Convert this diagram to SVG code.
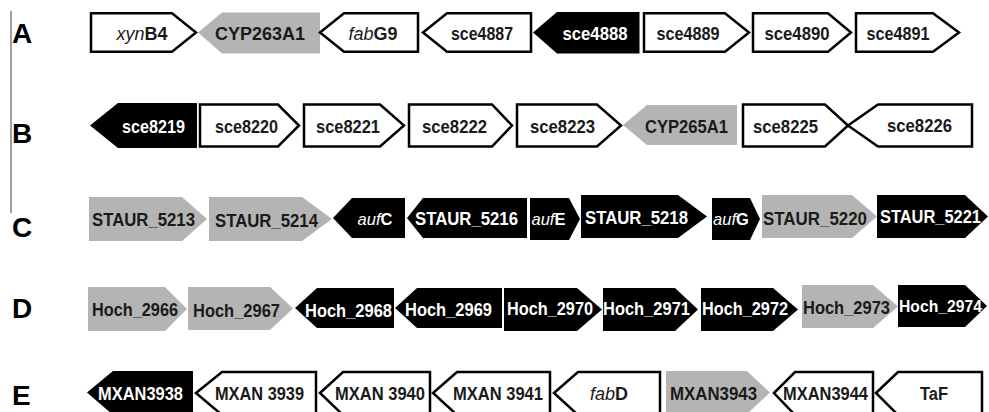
<svg xmlns="http://www.w3.org/2000/svg" width="989" height="412" viewBox="0 0 989 412">
<style>
.w{fill:#fff;stroke:#000;stroke-width:2.5;stroke-linejoin:miter}
.g{fill:#b4b4b4}
.k{fill:#000}
text{font-family:"Liberation Sans",Arial,sans-serif;font-weight:bold;font-size:18px;text-anchor:middle}
.d{fill:#1a1a1a}
.l{fill:#fff}
.lab{font-size:28px;text-anchor:start;fill:#000}
.s{font-size:16.5px}
.i{font-style:italic;font-weight:normal}
</style>
<rect width="989" height="412" fill="#fff"/>
<g id="axis"><line x1="11" y1="11" x2="11" y2="213" stroke="#808080" stroke-width="1.5"/></g>
<g id="row-labels">
<text class="lab" x="12" y="43">A</text>
<text class="lab" x="12" y="143">B</text>
<text class="lab" x="12" y="237">C</text>
<text class="lab" x="12" y="318">D</text>
<text class="lab" x="12" y="405">E</text>
</g>
<g id="connectors"></g>
<!-- Row A -->
<g id="xynB4"><polygon class="w" points="91,13.2 172,13.2 196,32.5 172,51.8 91,51.8"/><text class="d" x="142" y="40"><tspan class="i">xyn</tspan>B4</text></g>
<g id="CYP263A1"><polygon class="g" points="198,32.5 222,12.5 320,12.5 320,53.5 222,53.5"/><text class="d" x="260" y="40" textLength="90" lengthAdjust="spacingAndGlyphs">CYP263A1</text></g>
<g id="fabG9"><polygon class="w" points="320,32.5 344,13.2 418,13.2 418,51.8 344,51.8"/><text class="d" x="373" y="40"><tspan class="i">fab</tspan>G9</text></g>
<g id="sce4887"><polygon class="w" points="423,32.5 447,13.2 531,13.2 531,51.8 447,51.8"/><text class="d" x="482" y="40" textLength="62" lengthAdjust="spacingAndGlyphs">sce4887</text></g>
<g id="sce4888"><polygon class="k" points="533,32.5 557,12 639.5,12 639.5,53.5 557,53.5"/><text class="l" x="595" y="40" textLength="65" lengthAdjust="spacingAndGlyphs">sce4888</text></g>
<g id="sce4889"><polygon class="w" points="644,13.2 725,13.2 749,32.5 725,51.8 644,51.8"/><text class="d" x="688" y="40" textLength="63" lengthAdjust="spacingAndGlyphs">sce4889</text></g>
<g id="sce4890"><polygon class="w" points="753,13.2 828,13.2 851,32.5 828,51.8 753,51.8"/><text class="d" x="797" y="40" textLength="65" lengthAdjust="spacingAndGlyphs">sce4890</text></g>
<g id="sce4891"><polygon class="w" points="856,13.2 933,13.2 959,32.5 933,51.8 856,51.8"/><text class="d" x="898" y="40" textLength="63" lengthAdjust="spacingAndGlyphs">sce4891</text></g>
<!-- Row B -->
<g id="sce8219"><polygon class="k" points="90,125.5 118,103 197,103 197,148 118,148"/><text class="l" x="153.5" y="133" textLength="63" lengthAdjust="spacingAndGlyphs">sce8219</text></g>
<g id="sce8220"><polygon class="w" points="200,104.5 278,104.5 299,125.5 278,146.5 200,146.5"/><text class="d" x="246.5" y="133" textLength="63" lengthAdjust="spacingAndGlyphs">sce8220</text></g>
<g id="sce8221"><polygon class="w" points="304,104.5 380,104.5 404,125.5 380,146.5 304,146.5"/><text class="d" x="348" y="133" textLength="64" lengthAdjust="spacingAndGlyphs">sce8221</text></g>
<g id="sce8222"><polygon class="w" points="409,104.5 492,104.5 512,125.5 492,146.5 409,146.5"/><text class="d" x="454.5" y="133" textLength="65" lengthAdjust="spacingAndGlyphs">sce8222</text></g>
<g id="sce8223"><polygon class="w" points="517,104.5 597,104.5 621,125.5 597,146.5 517,146.5"/><text class="d" x="562.5" y="133" textLength="65" lengthAdjust="spacingAndGlyphs">sce8223</text></g>
<g id="CYP265A1"><polygon class="g" points="623,125 647,105 737,105 737,145 647,145"/><text class="d" x="686.5" y="133" textLength="83" lengthAdjust="spacingAndGlyphs">CYP265A1</text></g>
<g id="sce8225"><polygon class="w" points="743,104.5 825,104.5 848,125.5 825,146.5 743,146.5"/><text class="d" x="785.5" y="133" textLength="65" lengthAdjust="spacingAndGlyphs">sce8225</text></g>
<g id="sce8226"><polygon class="w" points="848,125.5 878,104.5 972,104.5 972,146.5 878,146.5"/><text class="d" x="919.5" y="132" textLength="65" lengthAdjust="spacingAndGlyphs">sce8226</text></g>
<!-- Row C -->
<g id="STAUR_5213"><polygon class="g" points="89,197 182,197 207,219 182,241 89,241"/><text class="d" x="143.5" y="226" textLength="103" lengthAdjust="spacingAndGlyphs">STAUR_5213</text></g>
<g id="STAUR_5214"><polygon class="g" points="209,197 302,197 332,219 302,241 209,241"/><text class="d" x="266.5" y="227" textLength="103" lengthAdjust="spacingAndGlyphs">STAUR_5214</text></g>
<g id="aufC"><polygon class="k" points="333,218 352,198 405,198 405,238 352,238"/><text class="l s" x="375" y="225"><tspan class="i">auf</tspan>C</text></g>
<g id="STAUR_5216"><polygon class="k" points="407,218 423,198 527,198 527,238 423,238"/><text class="l" x="466.5" y="225" textLength="103" lengthAdjust="spacingAndGlyphs">STAUR_5216</text></g>
<g id="aufE"><polygon class="k" points="530,198 569,198 580,219 569,240 530,240"/><text class="l s" x="548.5" y="225"><tspan class="i">auf</tspan>E</text></g>
<g id="STAUR_5218"><polygon class="k" points="581,195 678,195 707,216.5 678,238 581,238"/><text class="l" x="636.5" y="224" textLength="103" lengthAdjust="spacingAndGlyphs">STAUR_5218</text></g>
<g id="aufG"><polygon class="k" points="712,198 750,198 760,219 750,240 712,240"/><text class="l s" x="731" y="225"><tspan class="i">auf</tspan>G</text></g>
<g id="STAUR_5220"><polygon class="g" points="762,195 852,195 877,216.5 852,238 762,238"/><text class="d" x="815" y="225" textLength="104" lengthAdjust="spacingAndGlyphs">STAUR_5220</text></g>
<g id="STAUR_5221"><polygon class="k" points="877,195 965,195 988,216.5 965,238 877,238"/><text class="l" x="930.5" y="223" textLength="101" lengthAdjust="spacingAndGlyphs">STAUR_5221</text></g>
<!-- Row D -->
<g id="Hoch_2966"><polygon class="g" points="88,287 165,287 187,309 165,331 88,331"/><text class="d" x="135" y="316" textLength="86" lengthAdjust="spacingAndGlyphs">Hoch_2966</text></g>
<g id="Hoch_2967"><polygon class="g" points="188,287 270,287 293,308.5 270,330 188,330"/><text class="d" x="236.5" y="317" textLength="87" lengthAdjust="spacingAndGlyphs">Hoch_2967</text></g>
<g id="Hoch_2968"><polygon class="k" points="295,308 317,288 394,288 394,328 317,328"/><text class="l" x="348.5" y="317" textLength="87" lengthAdjust="spacingAndGlyphs">Hoch_2968</text></g>
<g id="Hoch_2969"><polygon class="k" points="395,308 417,288 502,288 502,328 417,328"/><text class="l" x="448.5" y="316" textLength="87" lengthAdjust="spacingAndGlyphs">Hoch_2969</text></g>
<g id="Hoch_2970"><polygon class="k" points="504,288 577,288 602,309.5 577,331 504,331"/><text class="l" x="550" y="315" textLength="86" lengthAdjust="spacingAndGlyphs">Hoch_2970</text></g>
<g id="Hoch_2971"><polygon class="k" points="603,288 675,288 698,309.5 675,331 603,331"/><text class="l" x="646.5" y="315" textLength="87" lengthAdjust="spacingAndGlyphs">Hoch_2971</text></g>
<g id="Hoch_2972"><polygon class="k" points="701,288 773,288 798,309.5 773,331 701,331"/><text class="l" x="745" y="315" textLength="86" lengthAdjust="spacingAndGlyphs">Hoch_2972</text></g>
<g id="Hoch_2973"><polygon class="g" points="802,285 873,285 898,306.5 873,328 802,328"/><text class="d" x="846.5" y="314" textLength="87" lengthAdjust="spacingAndGlyphs">Hoch_2973</text></g>
<g id="Hoch_2974"><polygon class="k" points="898,285 965,285 987,306 965,327 898,327"/><text class="l s" x="940.5" y="312" textLength="83" lengthAdjust="spacingAndGlyphs">Hoch_2974</text></g>
<!-- Row E -->
<g id="MXAN3938"><polygon class="k" points="87,392.5 113,371 193,371 193,415 113,415"/><text class="l" x="140.5" y="400" textLength="85" lengthAdjust="spacingAndGlyphs">MXAN3938</text></g>
<g id="MXAN3939"><polygon class="w" points="196,393 222,372 316,372 316,415 222,415"/><text class="d" x="259.5" y="400" textLength="89" lengthAdjust="spacingAndGlyphs">MXAN 3939</text></g>
<g id="MXAN3940"><polygon class="w" points="320,393 343,372 430,372 430,415 343,415"/><text class="d" x="380" y="400" textLength="90" lengthAdjust="spacingAndGlyphs">MXAN 3940</text></g>
<g id="MXAN3941"><polygon class="w" points="433,393 457,372 550,372 550,415 457,415"/><text class="d" x="498" y="400" textLength="90" lengthAdjust="spacingAndGlyphs">MXAN 3941</text></g>
<g id="fabD"><polygon class="w" points="554,393 578,372 660,372 660,415 578,415"/><text class="d" x="609" y="400"><tspan class="i">fab</tspan>D</text></g>
<g id="MXAN3943"><polygon class="g" points="666,371 747,371 770,392.5 747,414 666,414"/><text class="d" x="713.5" y="400" textLength="87" lengthAdjust="spacingAndGlyphs">MXAN3943</text></g>
<g id="MXAN3944"><polygon class="w" points="774,393 795,372 873,372 873,415 795,415"/><text class="d" x="825.5" y="400" textLength="85" lengthAdjust="spacingAndGlyphs">MXAN3944</text></g>
<g id="TaF"><polygon class="w" points="876,393 898,372 982,372 982,415 898,415"/><text class="d" x="934" y="400" textLength="28" lengthAdjust="spacingAndGlyphs">TaF</text></g>
</svg>
